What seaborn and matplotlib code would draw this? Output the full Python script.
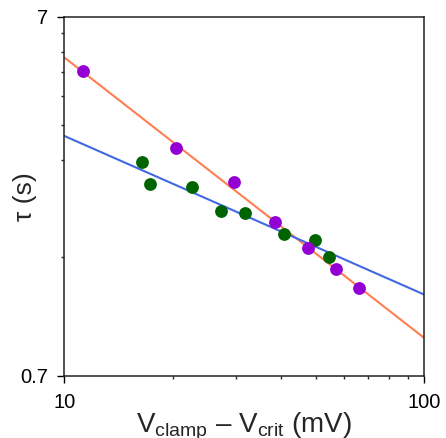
import matplotlib
matplotlib.use("Agg")
import pandas as pd
import matplotlib.pyplot as plt
import matplotlib.ticker as mticker
import seaborn as sns

# purple series
purple_x = [11.3, 20.4, 29.6, 38.5, 47.7, 56.8, 65.8]
purple_y = [4.95, 3.01, 2.42, 1.88, 1.59, 1.39, 1.23]

# green series
green_x = [16.4, 17.3, 22.6, 27.2, 31.7, 40.8, 49.9, 54.4]
green_y = [2.76, 2.40, 2.35, 2.01, 1.99, 1.74, 1.67, 1.50]

# power-law fits, read at the plot edges
fit_x = [10, 100]
fit_purple = [5.39, 0.894]
fit_green = [3.26, 1.18]

# axis ticks
x_major = [10, 100]
x_major_labels = ["10", "100"]
x_minor = [20, 30, 40, 50, 60, 70, 80, 90]
y_major = [0.7, 7]
y_major_labels = ["0.7", "7"]
y_minor = [1.5, 2.8, 3.5, 4.2, 4.9, 5.6, 6.3]

sns.set_style("ticks")
plt.rcParams["font.family"] = ["Liberation Sans", "DejaVu Sans"]
plt.rcParams["mathtext.fontset"] = "custom"
plt.rcParams["mathtext.rm"] = "Liberation Sans"

pts_purple = pd.DataFrame({"x": purple_x, "y": purple_y})
pts_green = pd.DataFrame({"x": green_x, "y": green_y})
fits = pd.DataFrame({"x": fit_x, "purple": fit_purple, "green": fit_green})

fig = plt.figure(figsize=(4.46, 4.38), dpi=100)
ax = fig.add_axes([0.1442, 0.1416, 0.8065, 0.8203])

sns.lineplot(data=fits, x="x", y="purple", color="#ff7f50", linewidth=1.5, ax=ax, zorder=2)
sns.lineplot(data=fits, x="x", y="green", color="#4169e1", linewidth=1.5, ax=ax, zorder=2)
sns.scatterplot(data=pts_green, x="x", y="y", color="#006400", s=85, linewidth=0, ax=ax, zorder=3)
sns.scatterplot(data=pts_purple, x="x", y="y", color="#9400d3", s=85, linewidth=0, ax=ax, zorder=3)

ax.set_xscale("log")
ax.set_yscale("log")
ax.set_xlim(10, 100)
ax.set_ylim(0.7, 7)

ax.xaxis.set_major_locator(mticker.FixedLocator(x_major))
ax.xaxis.set_major_formatter(mticker.FixedFormatter(x_major_labels))
ax.xaxis.set_minor_locator(mticker.FixedLocator(x_minor))
ax.xaxis.set_minor_formatter(mticker.NullFormatter())
ax.yaxis.set_major_locator(mticker.FixedLocator(y_major))
ax.yaxis.set_major_formatter(mticker.FixedFormatter(y_major_labels))
ax.yaxis.set_minor_locator(mticker.FixedLocator(y_minor))
ax.yaxis.set_minor_formatter(mticker.NullFormatter())

ax.tick_params(which="major", direction="out", length=5, width=1, labelsize=14.5, pad=7, colors="black")
ax.tick_params(which="minor", direction="out", length=2.5, width=1)

for sp in ax.spines.values():
    sp.set_linewidth(1.1)
    sp.set_color("#222222")

ax.set_xlabel(r"V$_\mathregular{clamp}$ – V$_\mathregular{crit}$ (mV)", fontsize=20)
ax.set_ylabel("τ (s)", fontsize=19)
ax.xaxis.set_label_coords(0.5, -0.097)
ax.yaxis.set_label_coords(-0.076, 0.5)

fig.savefig("out.png", dpi=100)
